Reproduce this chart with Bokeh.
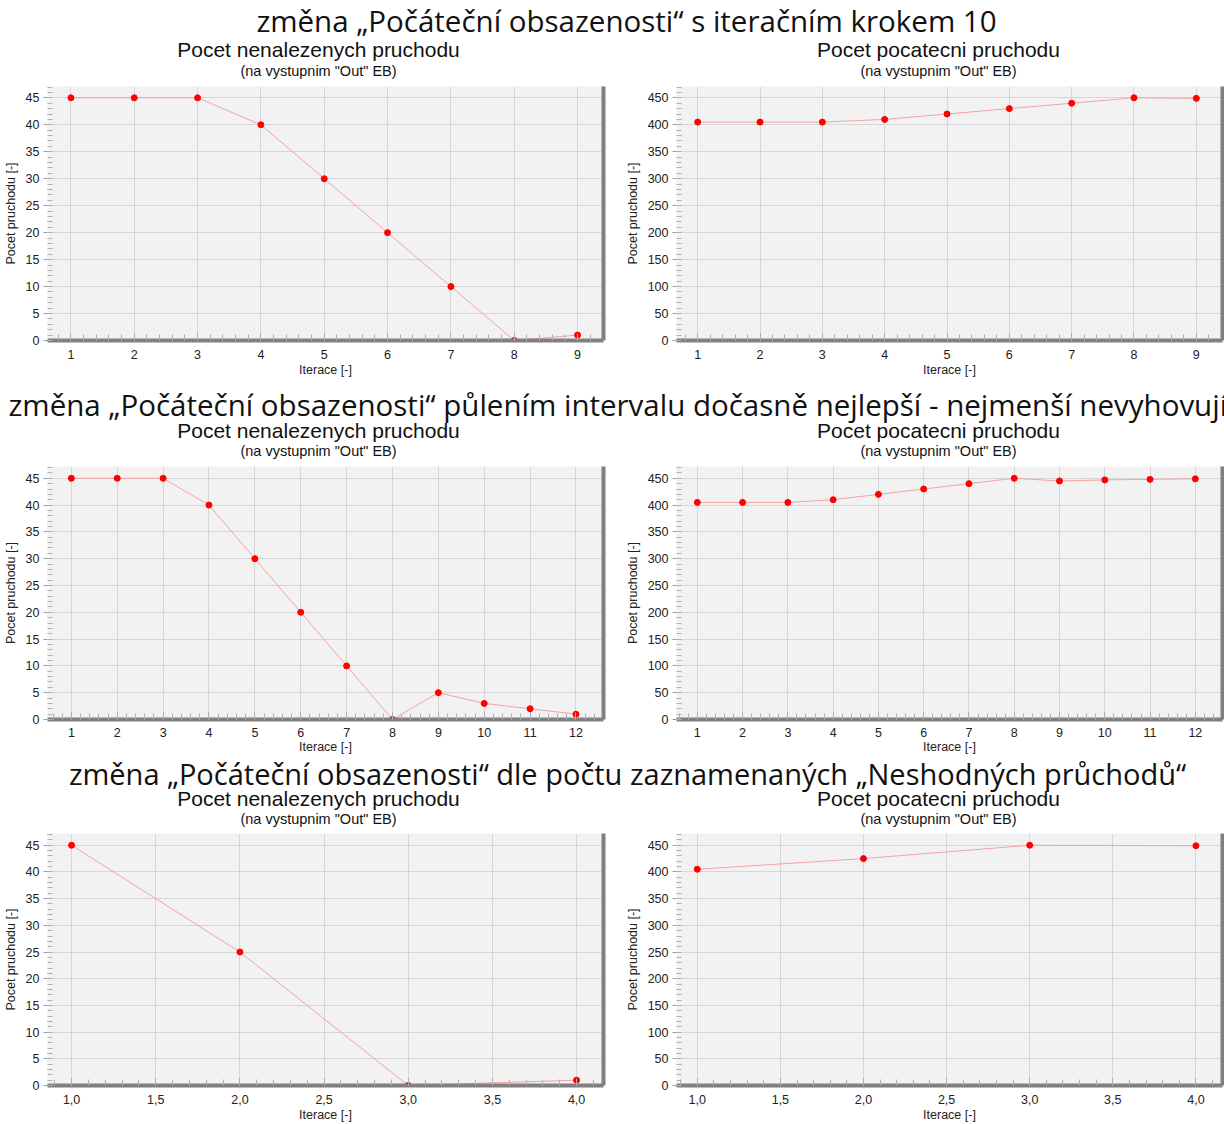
from bokeh.plotting import figure
from bokeh.models import Range1d, LinearAxis, FixedTicker, SingleIntervalTicker, CustomJSTickFormatter
from bokeh.layouts import column, row
from bokeh.core.properties import value
from bokeh.embed import file_html
from bokeh.resources import INLINE

# ---- texts ----
header_1 = "změna „Počáteční obsazenosti“ s iteračním krokem 10"
header_2 = "změna „Počáteční obsazenosti“ půlením intervalu dočasně nejlepší - nejmenší nevyhovující"
header_3 = "změna „Počáteční obsazenosti“ dle počtu zaznamenaných „Neshodných průchodů“"
title_left = "Pocet nenalezenych pruchodu"
title_right = "Pocet pocatecni pruchodu"
subtitle = "(na vystupnim \"Out\" EB)"
x_label = "Iterace [-]"
y_label = "Pocet pruchodu [-]"

# ---- data ----
iter_a = [1, 2, 3, 4, 5, 6, 7, 8, 9]
notfound_a = [45, 45, 45, 40, 30, 20, 10, 0, 1]
initial_a = [405, 405, 405, 410, 420, 430, 440, 450, 449]

iter_b = [1, 2, 3, 4, 5, 6, 7, 8, 9, 10, 11, 12]
notfound_b = [45, 45, 45, 40, 30, 20, 10, 0, 5, 3, 2, 1]
initial_b = [405, 405, 405, 410, 420, 430, 440, 450, 445, 447, 448, 449]

iter_c = [1.0, 2.0, 3.0, 4.0]
notfound_c = [45, 25, 0, 1]
initial_c = [405, 425, 450, 449]

FONT = "Liberation Sans"
HFONT = "Open Sans"
LINE_COL = "#f4a3a3"
PT_COL = "#ff0000"
GRID_COL = "#d6d6d6"
AXIS_COL = "#808080"
W = 612


def panel(x, y, xr, yr, x_int, y_int, is_left, height, top, bottom, lab_off, ax_off, comma=False):
    p = figure(width=W, height=height,
               x_range=Range1d(*xr), y_range=Range1d(*yr),
               output_backend="svg", toolbar_location=None, title=None,
               min_border_left=47 if is_left else 64,
               min_border_right=9 if is_left else 2,
               min_border_top=top, min_border_bottom=bottom,
               background_fill_color="#f2f2f2", border_fill_color="white",
               outline_line_color=None)

    p.xaxis.ticker = SingleIntervalTicker(interval=x_int, num_minor_ticks=5)
    p.yaxis.ticker = SingleIntervalTicker(interval=y_int, num_minor_ticks=5)
    if comma:
        p.xaxis.formatter = CustomJSTickFormatter(code="return tick.toFixed(1).replace('.', ',');")

    for ax in (p.xaxis, p.yaxis):
        ax.major_label_text_font = FONT
        ax.major_label_text_font_size = "12.5px"
        ax.major_label_text_color = "#222222"
        ax.axis_label_text_font = FONT
        ax.axis_label_text_font_size = "12.5px"
        ax.axis_label_text_font_style = "normal"
        ax.axis_label_text_color = "#222222"
        ax.major_tick_line_color = "#9a9a9a"
        ax.minor_tick_line_color = "#b0b0b0"

    p.xaxis.axis_label = x_label
    p.yaxis.axis_label = y_label
    p.xaxis.major_label_standoff = lab_off
    p.xaxis.axis_label_standoff = ax_off
    p.yaxis.major_label_standoff = 4
    p.yaxis.axis_label_standoff = 5
    p.xaxis.axis_line_color = AXIS_COL
    p.xaxis.axis_line_width = 4
    p.xaxis.major_tick_in = 7
    p.xaxis.major_tick_out = 0
    p.xaxis.minor_tick_in = 6
    p.xaxis.minor_tick_out = 0
    p.yaxis.axis_line_color = None
    p.yaxis.major_tick_in = 0
    p.yaxis.major_tick_out = 4
    p.yaxis.minor_tick_in = 5
    p.yaxis.minor_tick_out = 0

    ra = LinearAxis(ticker=FixedTicker(ticks=[]), axis_line_color=AXIS_COL,
                    axis_line_width=4, major_tick_line_color=None,
                    minor_tick_line_color=None, major_label_text_font_size="0px")
    p.add_layout(ra, "right")

    p.xgrid.grid_line_color = GRID_COL
    p.ygrid.grid_line_color = GRID_COL

    p.line(x, y, line_color=LINE_COL, line_width=1)
    p.scatter(x, y, size=6, fill_color=PT_COL, line_color=PT_COL)
    return p


def header(text, h, hx, hy, align, ty, sy, fs):
    p = figure(width=2 * W, height=h, x_range=Range1d(0, 2 * W), y_range=Range1d(0, h),
               output_backend="svg", toolbar_location=None, title=None,
               x_axis_location=None, y_axis_location=None, min_border=0,
               outline_line_color=None)
    p.grid.visible = False
    p.text(x=[hx], y=[hy], text=[text], text_font=value(HFONT),
           text_font_size=fs, text_align=align, text_baseline="middle",
           text_color="#111111")
    p.text(x=[318, 938], y=[ty, ty], text=[title_left, title_right],
           text_font=value(FONT), text_font_size="21px", text_align="center",
           text_baseline="middle", text_color="#111111")
    p.text(x=[318, 938], y=[sy, sy], text=[subtitle, subtitle],
           text_font=value(FONT), text_font_size="14.5px", text_align="center",
           text_baseline="middle", text_color="#111111")
    return p


h1 = header(header_1, 80, 626, 60, "center", 31, 10, "29.5px")
p1 = panel(iter_a, notfound_a, (0.63, 9.41), (0, 47.1), 1, 5, True, 300, 6, 40, 9, 1)
p2 = panel(iter_a, initial_a, (0.66, 9.42), (0, 471), 1, 50, False, 300, 6, 40, 9, 1)
h2 = header(header_2, 80, 8, 56, "left", 30, 10, "29.5px")
p3 = panel(iter_b, notfound_b, (0.48, 12.6), (0, 47.2), 1, 5, True, 296, 6, 36, 8, 0)
p4 = panel(iter_b, initial_b, (0.54, 12.6), (0, 472), 1, 50, False, 296, 6, 36, 8, 0)
h3 = header(header_3, 73, 627, 56, "center", 31, 11, "29px")
p5 = panel(iter_c, notfound_c, (0.857, 4.16), (0, 47.2), 0.5, 5, True, 295, 4, 38, 9, 1, comma=True)
p6 = panel(iter_c, initial_c, (0.875, 4.16), (0, 472), 0.5, 50, False, 295, 4, 38, 9, 1, comma=True)

layout = column(h1, row(p1, p2), h2, row(p3, p4), h3, row(p5, p6))
open("out.html", "w").write(file_html(layout, INLINE))
